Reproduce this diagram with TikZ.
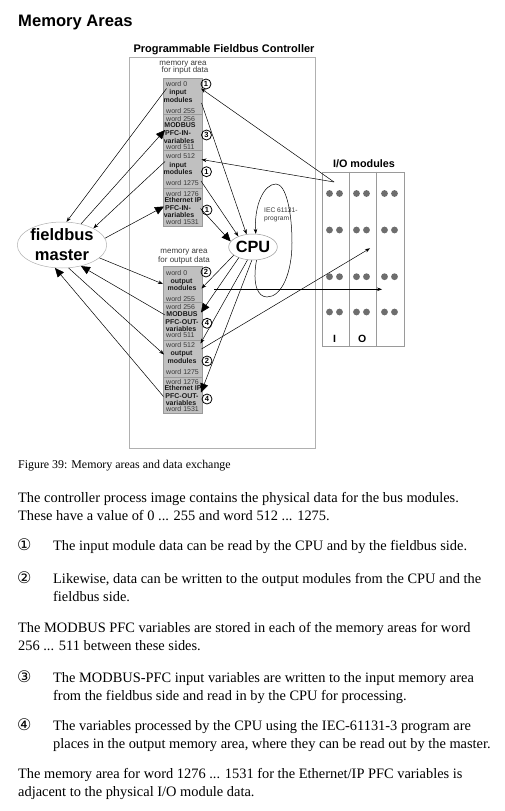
\documentclass[tikz,border=0pt]{standalone}
\usepackage{fontspec}
\setmainfont{Liberation Serif}
\newfontfamily\arial{Liberation Sans}
\newfontfamily\dejavu{DejaVu Sans}
\usetikzlibrary{arrows.meta,shapes.geometric}
\definecolor{memfill}{HTML}{C0C0C0}
\definecolor{memline}{HTML}{9A9A9A}
\definecolor{boxline}{HTML}{B0B0B0}
\definecolor{wordc}{HTML}{3A3A3A}
\definecolor{dotc}{HTML}{6E6E6E}
\begin{document}
\begin{tikzpicture}[x=1pt,y=-1pt,
  seg/.style={rectangle,draw=memline,fill=memfill,line width=0.6pt,minimum width=39pt,inner sep=0pt,outer sep=0pt,anchor=north west},
  wordlbl/.style={font=\arial\fontsize{7}{8}\selectfont,text=wordc,inner sep=0pt,anchor=base west},
  boldlbl/.style={font=\arial\bfseries\fontsize{7}{8}\selectfont,text=black!90,inner sep=0pt,anchor=base},
  smalllbl/.style={font=\arial\fontsize{8}{9}\selectfont,text=wordc,inner sep=0pt,anchor=base},
  cnum/.style={circle,draw,line width=0.8pt,inner sep=0.4pt,minimum size=10pt,font=\arial\bfseries\fontsize{7.5}{8}\selectfont},
  arr/.style={-{Stealth[length=5pt,width=3.6pt]},line width=0.5pt},
  bigarr/.style={-{Triangle[length=9pt,width=8pt]},line width=0.5pt},
  body/.style={anchor=base west,inner sep=0pt,font=\fontsize{14.4}{18}\selectfont},
  cdig/.style={anchor=base west,inner sep=0pt,font=\dejavu\fontsize{16}{18}\selectfont}
]
\useasboundingbox (0,0) rectangle (505,811);
\fill[white] (0,0) rectangle (505,811);

% title
\node[anchor=base west,inner sep=0pt,font=\arial\bfseries\fontsize{16.6}{20}\selectfont] (title) at (18,26) {Memory Areas};

% controller box
\node[rectangle,draw=boxline,line width=0.6pt,minimum width=186pt,minimum height=391pt,anchor=north west,inner sep=0pt] (pfc) at (129,57) {};
\node[anchor=base,inner sep=0pt,font=\arial\bfseries\fontsize{11}{13}\selectfont] (pfclbl) at (224,52) {Programmable Fieldbus Controller};

% memory labels
\node[smalllbl] (mi1) at (183,65) {memory area};
\node[smalllbl] (mi2) at (185,72.7) {for input data};
\node[smalllbl] (mo1) at (184,253.3) {memory area};
\node[smalllbl] (mo2) at (184,262.7) {for output data};

% memory segments
\node[seg,minimum height=36pt] (in0) at (163,78) {};
\node[seg,minimum height=36pt] (in1) at (163,114) {};
\node[seg,minimum height=38pt] (in2) at (163,150) {};
\node[seg,minimum height=38pt] (in3) at (163,188) {};
\node[seg,minimum height=36pt] (out0) at (163,266) {};
\node[seg,minimum height=38pt] (out1) at (163,302) {};
\node[seg,minimum height=37pt] (out2) at (163,340) {};
\node[seg,minimum height=36pt] (out3) at (163,377) {};

% input texts
\node[wordlbl] (iw0) at (166,86) {word 0};
\node[boldlbl] (ib1) at (178,94.5) {input};
\node[boldlbl] (ib2) at (178,102) {modules};
\node[wordlbl] (iw255) at (166,113) {word 255};
\node[wordlbl] (iw256) at (166,121) {word 256};
\node[boldlbl] (ib3) at (180,127) {MODBUS};
\node[boldlbl] (ib4) at (178,135) {PFC-IN-};
\node[boldlbl] (ib5) at (179,143) {variables};
\node[wordlbl] (iw511) at (166,149.2) {word 511};
\node[wordlbl] (iw512) at (166,158.5) {word 512};
\node[boldlbl] (ib6) at (178,167.5) {input};
\node[boldlbl] (ib7) at (178,174.5) {modules};
\node[wordlbl] (iw1275) at (166,185.2) {word 1275};
\node[wordlbl] (iw1276) at (166,196.3) {word 1276};
\node[boldlbl] (ib8) at (183,202) {Ethernet IP};
\node[boldlbl] (ib9) at (178,210.5) {PFC-IN-};
\node[boldlbl] (ib10) at (179,217.5) {variables};
\node[wordlbl] (iw1531) at (166,224.3) {word 1531};

% output texts
\node[wordlbl] (ow0) at (166,275.3) {word 0};
\node[boldlbl] (ob1) at (181.5,283) {output};
\node[boldlbl] (ob2) at (182,290.8) {modules};
\node[wordlbl] (ow255) at (166,301) {word 255};
\node[wordlbl] (ow256) at (166,309.5) {word 256};
\node[boldlbl] (ob3) at (182,316) {MODBUS};
\node[boldlbl] (ob4) at (182,324.3) {PFC-OUT-};
\node[boldlbl] (ob5) at (181,331.5) {variables};
\node[wordlbl] (ow511) at (166,337) {word 511};
\node[wordlbl] (ow512) at (166,347) {word 512};
\node[boldlbl] (ob6) at (181.5,355.5) {output};
\node[boldlbl] (ob7) at (182,363.5) {modules};
\node[wordlbl] (ow1275) at (166,374.3) {word 1275};
\node[wordlbl] (ow1276) at (166,384.3) {word 1276};
\node[boldlbl] (ob8) at (183,390.3) {Ethernet IP};
\node[boldlbl] (ob9) at (182,398.3) {PFC-OUT-};
\node[boldlbl] (ob10) at (181,405.8) {variables};
\node[wordlbl] (ow1531) at (166,411.7) {word 1531};

% circled numbers
\node[cnum] (c1) at (206,84) {1};
\node[cnum] (c2) at (206.5,135) {3};
\node[cnum] (c3) at (206.5,171.7) {1};
\node[cnum] (c4) at (207,210) {1};
\node[cnum] (c5) at (206,272) {2};
\node[cnum] (c6) at (207,323.3) {4};
\node[cnum] (c7) at (207,361) {2};
\node[cnum] (c8) at (207,399) {4};

% CPU and fieldbus master
\node[ellipse,draw=memline,line width=0.5pt,minimum width=48pt,minimum height=26pt,inner sep=0pt,font=\arial\bfseries\fontsize{16.3}{18}\selectfont] (cpu) at (253,247) {CPU};
\node[ellipse,draw=boxline,line width=0.5pt,minimum width=88pt,minimum height=46pt,inner sep=0pt,align=center,font=\arial\bfseries\fontsize{16.5}{20}\selectfont] (fm) at (62,245) {fieldbus\\master};

% IEC program label
\node[anchor=base west,inner sep=0pt,align=left,font=\arial\fontsize{6.7}{8}\selectfont,text=wordc] (iec) at (264,220.8) {IEC 61131-\\program};

% I/O modules
\node[anchor=base,inner sep=0pt,font=\arial\bfseries\fontsize{10.8}{12}\selectfont] (iolbl) at (364,167) {I/O modules};
\node[rectangle,draw=memline,line width=0.6pt,minimum width=82.3pt,minimum height=173.8pt,anchor=north west,inner sep=0pt] (io) at (321.7,171.7) {};
\draw[memline,line width=0.6pt] (349.3,171.7) -- (349.3,345.5) (376.7,171.7) -- (376.7,345.5);
\foreach \yy in {193.5,230,276.7,312} {
  \foreach \xx in {329.5,339.5,356.5,366.5,384.5,394.5} {
    \fill[dotc] (\xx,\yy) circle (3.4pt);
  }
}
\node[anchor=base,inner sep=0pt,font=\arial\bfseries\fontsize{10.5}{12}\selectfont] (ioI) at (334.5,342.5) {I};
\node[anchor=base,inner sep=0pt,font=\arial\bfseries\fontsize{10.5}{12}\selectfont] (ioO) at (362.3,342.5) {O};

% connector end points
\coordinate (in0L) at (166.5,88.5);
\coordinate (in0R) at (201.5,103);
\coordinate (in0Ra) at (201,88.5);
\coordinate (in1L) at (165,130);
\coordinate (in2L) at (165,161.5);
\coordinate (in2Ra) at (201.5,159.5);
\coordinate (in2R) at (201,181);
\coordinate (in3L) at (164,206.5);
\coordinate (in3R) at (200.5,208.5);
\coordinate (out0L) at (163,284);
\coordinate (out0R) at (201.5,288.5);
\coordinate (hstart) at (214,289.3);
\coordinate (out1L) at (165,315);
\coordinate (out1R) at (201,312.5);
\coordinate (out2L) at (164,354.5);
\coordinate (out2Ra) at (200.5,343.5);
\coordinate (out2R) at (201.5,349);
\coordinate (out3L) at (163.5,396.5);
\coordinate (out3R) at (201,392.5);
\coordinate (ioIn) at (334,182);
\coordinate (ioOut1) at (370,248.3);
\coordinate (ioOut2) at (382,289.3);

% connectors
\draw[arr] (in0L) -- (fm.79);
\draw[bigarr] (fm.48) -- (in1L);
\draw[arr] (in2L) -- (fm.28);
\draw[bigarr] (fm.9) -- (in3L);
\draw[arr] (fm.-19) -- (out0L);
\draw[bigarr] (out1L) -- (fm.-48);
\draw[arr] (fm.-74) -- (out2L);
\draw[bigarr] (out3L) -- (fm.-107);
\draw[arr] (ioIn) -- (in0Ra);
\draw[arr] (ioIn) -- (in2Ra);
\draw[arr] (in0R) -- (cpu.117);
\draw[arr] (in2R) -- (cpu.144);
\draw[bigarr] (in3R) -- (cpu.166);
\draw[arr] (cpu.203) -- (out0R);
\draw[bigarr] (cpu.217) -- (out1R);
\draw[arr] (cpu.247) -- (out2Ra);
\draw[bigarr] (cpu.265) -- (out3R);
\draw[arr] (out2R) -- (ioOut1);
\draw[arr] (hstart) -- (ioOut2);
\draw[arr] (cpu.-75) .. controls (252,285) and (258,297) .. (267,297)
  .. controls (282,297) and (292,272) .. (292,243)
  .. controls (292,212) and (286,184) .. (276,184)
  .. controls (264,184) and (254,205) .. (cpu.78);

% caption and body text
\node[anchor=base west,inner sep=0pt,font=\fontsize{11.9}{14}\selectfont] (cap) at (18,468) {Figure 39: Memory areas and data exchange};
\node[body] (t1) at (18,502) {The controller process image contains the physical data for the bus modules.};
\node[body] (t2) at (18,520) {These have a value of 0 ... 255 and word 512 ... 1275.};
\node[cdig] (d1) at (17,550) {①};
\node[body] (t3) at (53,550) {The input module data can be read by the CPU and by the fieldbus side.};
\node[cdig] (d2) at (17,583) {②};
\node[body] (t4) at (53,583) {Likewise, data can be written to the output modules from the CPU and the};
\node[body] (t5) at (53,601) {fieldbus side.};
\node[body] (t6) at (18,632) {The MODBUS PFC variables are stored in each of the memory areas for word};
\node[body] (t7) at (18,650) {256 ... 511 between these sides.};
\node[cdig] (d3) at (17,682) {③};
\node[body] (t8) at (53,682) {The MODBUS-PFC input variables are written to the input memory area};
\node[body] (t9) at (53,700) {from the fieldbus side and read in by the CPU for processing.};
\node[cdig] (d4) at (17,730) {④};
\node[body] (t10) at (53,730) {The variables processed by the CPU using the IEC-61131-3 program are};
\node[body] (t11) at (53,748) {places in the output memory area, where they can be read out by the master.};
\node[body] (t12) at (18,778) {The memory area for word 1276 ... 1531 for the Ethernet/IP PFC variables is};
\node[body] (t13) at (18,796) {adjacent to the physical I/O module data.};
\end{tikzpicture}
\end{document}
